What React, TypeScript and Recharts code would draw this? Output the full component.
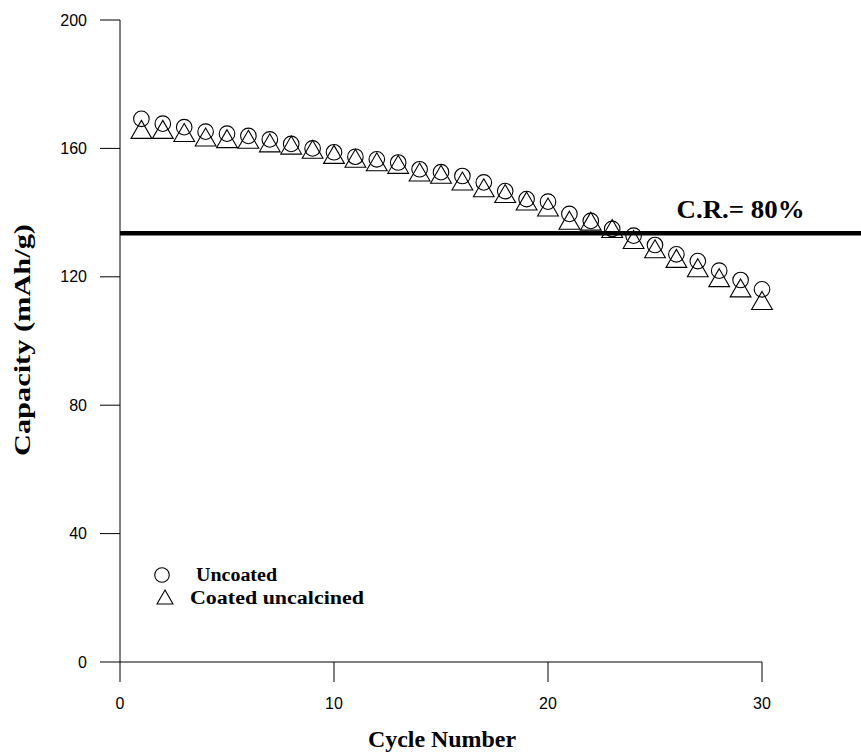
import React from "react";
import {
  ScatterChart,
  Scatter,
  XAxis,
  YAxis,
  ReferenceLine,
  ReferenceDot,
} from "recharts";

const cycles = [
  1, 2, 3, 4, 5, 6, 7, 8, 9, 10, 11, 12, 13, 14, 15, 16, 17, 18, 19, 20, 21,
  22, 23, 24, 25, 26, 27, 28, 29, 30,
];
const uncoated = [
  169.2, 167.7, 166.6, 165.2, 164.6, 163.9, 162.8, 161.4, 160.0, 158.8, 157.4,
  156.6, 155.6, 153.5, 152.6, 151.4, 149.4, 146.7, 144.2, 143.4, 139.6, 137.4,
  134.9, 132.8, 129.9, 127.0, 124.9, 121.9, 119.0, 116.1,
];
const coatedUncalcined = [
  165.0, 165.0, 164.0, 162.6, 162.1, 161.9, 160.8, 160.1, 158.8, 157.2, 156.0,
  154.9, 154.1, 151.7, 151.0, 148.9, 146.8, 145.0, 142.7, 140.8, 136.7, 136.4,
  134.1, 130.7, 127.8, 124.8, 121.9, 118.8, 115.6, 111.7,
];
const seriesNames = ["Uncoated", "Coated uncalcined"];
const xTicks = [0, 10, 20, 30];
const yTicks = [0, 40, 80, 120, 160, 200];
const crValue = 133.6;
const crLabel = "C.R.= 80%";

const serif = "'Liberation Serif', 'Times New Roman', serif";
const sans = "'Liberation Sans', Arial, sans-serif";

const toPoints = (vals: number[]) => cycles.map((c, i) => ({ x: c, y: vals[i] }));

const CircleMark = (props: any) => (
  <circle cx={props.cx} cy={props.cy} r={7.8} fill="none" stroke="#000" strokeWidth={1.1} />
);

const TriangleMark = (props: any) => {
  const { cx, cy } = props;
  const h = 6;
  const w = 10.4;
  return (
    <path
      d={`M${cx},${cy - 2 * h}L${cx + w},${cy + h}L${cx - w},${cy + h}Z`}
      fill="none"
      stroke="#000"
      strokeWidth={1.1}
    />
  );
};

// legend drawn as its own svg over the plot's lower left corner
function LegendBox() {
  return (
    <svg width={240} height={60} style={{ position: "absolute", left: 140, top: 560 }}>
      <circle cx={22} cy={15} r={7.3} fill="none" stroke="#000" strokeWidth={1.1} />
      <text x={56} y={21} fontFamily={serif} fontWeight="bold" fontSize={18} textLength={81} lengthAdjust="spacingAndGlyphs">
        {seriesNames[0]}
      </text>
      <path d="M25,30L33,44L17,44Z" fill="none" stroke="#000" strokeWidth={1.1} />
      <text x={50} y={44} fontFamily={serif} fontWeight="bold" fontSize={18} textLength={174} lengthAdjust="spacingAndGlyphs">
        {seriesNames[1]}
      </text>
    </svg>
  );
}

export default function App() {
  return (
    <div style={{ position: "absolute", left: 0, top: 0, width: 861, height: 754, background: "#fff" }}>
      <ScatterChart width={861} height={754} margin={{ top: 20, right: 99, bottom: 0, left: 0 }}>
        <XAxis
          type="number"
          dataKey="x"
          domain={[0, 30]}
          ticks={xTicks}
          tickSize={20}
          tickMargin={16}
          height={92}
          stroke="#000"
          tick={{ fill: "#000", fontSize: 16, fontFamily: sans }}
          label={{
            content: (p: any) => {
              const vb = p.viewBox;
              return (
                <text x={vb.x + vb.width / 2 - 73} y={vb.y + 85} fontFamily={serif} fontWeight="bold" fontSize={24} fill="#000" textLength={148} lengthAdjust="spacingAndGlyphs">
                  Cycle Number
                </text>
              );
            },
          }}
        />
        <YAxis
          type="number"
          dataKey="y"
          domain={[0, 200]}
          ticks={yTicks}
          tickSize={20}
          tickMargin={13}
          width={120}
          stroke="#000"
          tick={{ fill: "#000", fontSize: 16, fontFamily: sans }}
          label={{
            content: (p: any) => {
              const vb = p.viewBox;
              const cx = vb.x + 22;
              const cy = vb.y + vb.height / 2;
              return (
                <text x={cx - 115} y={cy} transform={`rotate(-90, ${cx}, ${cy})`} dominantBaseline="central" fontFamily={serif} fontWeight="bold" fontSize={24} fill="#000" textLength={232} lengthAdjust="spacingAndGlyphs">
                  Capacity (mAh/g)
                </text>
              );
            },
          }}
        />
        <ReferenceLine
          segment={[
            { x: 0, y: crValue },
            { x: 35, y: crValue },
          ]}
          stroke="#000"
          strokeWidth={4.5}
          ifOverflow="visible"
        />
        <ReferenceDot
          x={29}
          y={crValue}
          r={0}
          ifOverflow="visible"
          label={{
            content: (p: any) => {
              const vb = p.viewBox;
              return (
                <text x={vb.x - 64} y={vb.y - 15} fontFamily={serif} fontWeight="bold" fontSize={25} fill="#000" textLength={128} lengthAdjust="spacingAndGlyphs">
                  {crLabel}
                </text>
              );
            },
          }}
        />
        <Scatter name={seriesNames[0]} data={toPoints(uncoated)} shape={CircleMark} isAnimationActive={false} />
        <Scatter name={seriesNames[1]} data={toPoints(coatedUncalcined)} shape={TriangleMark} isAnimationActive={false} />
      </ScatterChart>
      <LegendBox />
    </div>
  );
}
